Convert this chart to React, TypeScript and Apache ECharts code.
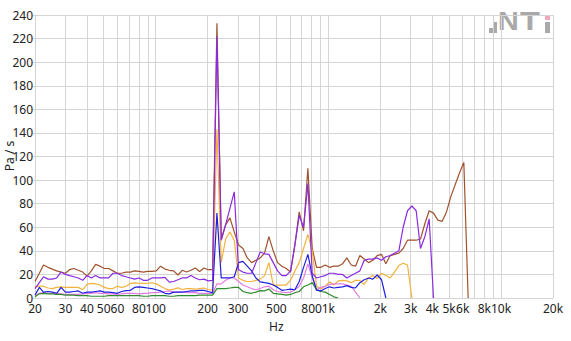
import React, { useEffect, useRef } from "react";
import * as echarts from "echarts";

// 1/12-octave band centre frequencies (Hz)
const FREQS = [
  20.0, 21.2, 22.4, 23.8, 25.2, 26.7, 28.3, 30.0, 31.7, 33.6, 35.6, 37.8,
  40.0, 42.4, 44.9, 47.6, 50.4, 53.4, 56.6, 59.9, 63.5, 67.3, 71.3, 75.5,
  80.0, 84.8, 89.8, 95.1, 100.8, 106.8, 113.1, 119.9, 127.0, 134.5, 142.5, 151.0,
  160, 169.5, 179.6, 190.3, 201.6, 213.6, 226.3, 239.7, 254.0, 269.1, 285.1, 302.0,
  320, 339.0, 359.2, 380.6, 403.2, 427.1, 452.5, 479.5, 508.0, 538.2, 570.2, 604.1,
  640, 678.1, 718.4, 761.1, 806.4, 854.3, 905.1, 958.9, 1016, 1076, 1140, 1208,
  1280, 1356, 1437, 1522, 1613, 1709, 1810, 1918, 2032, 2153, 2281, 2416,
  2560, 2712, 2874, 3044, 3225, 3417, 3620, 3836, 4064, 4305, 4561, 4833,
  5120, 5424, 5747, 6089, 6451,
];

const BROWN = [
  14, 21, 28, 26, 24.5, 23, 22, 21, 24, 25,
  23.5, 22, 18.5, 23, 28.5, 27, 25, 25, 23, 21,
  21, 22, 22, 23, 22.5, 22, 22.5, 22.5, 23, 27,
  24.5, 23.5, 23, 19.5, 23.5, 22, 23.5, 25.5, 22.5, 25.5,
  24, 24, 233, 50, 62, 68, 56, 45, 42, 34,
  30, 32, 34, 38, 52, 40, 30, 27, 25, 22,
  45, 73, 57, 110, 42, 26, 26, 28, 26, 27,
  27, 29, 34, 28, 27, 36, 33, 30, 32, 36,
  37, 29, 36, 37, 38, 42, 49, 49, 49, 50,
  63, 74, 72, 66, 65, 73, 86, 96, 106, 115, 0,
];

const PURPLE = [
  8, 13, 18, 16, 16, 17, 22, 20, 19, 18,
  17, 15, 19, 17, 19, 17, 17, 17, 21, 21,
  19, 18, 17, 16, 17, 15, 15, 17, 17, 17,
  17.5, 13.5, 14, 15.5, 17, 17, 19, 17, 15.5, 16,
  14.5, 15, 222, 49, 62, 76, 90, 24, 22, 21,
  21, 30, 39, 37.5, 37, 30, 23, 19, 19, 23,
  45, 70, 60, 97, 21, 17, 18, 19, 21, 21,
  20, 20, 17, 19, 21, 23, 32, 33, 33, 34,
  32, 35, 36, 38, 40, 60, 74, 78, 74, 42,
  52, 67, 0,
];

const ORANGE = [
  9.5, 10, 10, 8.5, 8, 9, 9.5, 9, 9, 9,
  9, 7, 11.5, 12.4, 12, 11, 9, 8, 8, 10,
  9, 10, 12.4, 12.8, 12.5, 12.4, 12.5, 12.9, 12, 10,
  8, 6.7, 7.5, 8.6, 7.2, 8, 8, 7.5, 8, 8.5,
  7.2, 6.5, 143, 30, 50, 56, 49, 17, 15, 14,
  14, 15, 16, 19, 30, 11, 11, 11, 11, 15,
  23, 30, 42, 54, 40, 10, 7.6, 10, 13.8, 11,
  14.5, 15, 14.5, 13, 15, 15, 11.5, 17, 19, 16.6,
  21, 19, 17, 22, 27.5, 29.5, 28, 0,
];

const BLUE = [
  2.5, 9, 5, 5.5, 5, 4, 9, 5, 5, 5.5,
  6, 4, 5, 5, 5.5, 6, 5, 5, 4.5, 4,
  5.5, 6.3, 6.5, 9, 9.5, 9, 8.5, 8, 7, 6,
  4, 3.5, 5, 5, 5, 5.5, 6, 6, 6.5, 6.5,
  5.5, 4.4, 72, 17, 17, 17, 18, 30, 31, 27,
  23, 17, 13.7, 13, 12.4, 11, 9, 6.5, 7, 7.6,
  7, 14, 26, 37, 19, 6.7, 6, 8, 9.5, 8.5,
  9, 9.5, 10.5, 9, 8.5, 13, 15.5, 17, 16, 19.5,
  15.5, 0,
];

const PINK = [
  2, 4, 4.5, 4, 4, 4, 3.5, 3, 3, 3,
  3, 3.5, 4, 4, 4.5, 4, 4, 3.5, 3.5, 3,
  3.5, 4, 4, 4, 3.5, 4, 4, 4.5, 4.5, 5,
  5.5, 6, 5, 5, 5, 4.5, 4.5, 4.5, 4, 4,
  4, 3.9, 12, 12, 15, 17, 17, 14, 11, 9.5,
  8, 7, 8, 9.5, 10, 7, 5.5, 5, 4.5, 5,
  7, 10, 17, 29, 17, 7, 9, 10, 11.5, 12,
  12, 12, 11, 10, 5, 0,
];

const GREEN = [
  1, 3.5, 4, 3.5, 3.5, 3, 3, 2.5, 2.5, 2.5,
  2, 2, 2, 1.5, 1.5, 1.5, 1.5, 2, 2, 2,
  2, 2, 2, 2, 2, 1.5, 1.5, 2, 2, 2,
  2, 1.5, 1.5, 2, 2, 2, 2, 2, 2.5, 2.5,
  2.5, 2.5, 8, 8, 8, 8.5, 9, 9, 5.5, 4.5,
  4, 5, 6.3, 6, 7.6, 4, 3.5, 3, 2.5, 3,
  4.5, 5.5, 9.5, 11, 13, 7, 5.5, 5, 3, 1,
  0,
];

const GRID_FREQS = [
  20, 30, 40, 50, 60, 70, 80, 90, 100,
  200, 300, 400, 500, 600, 700, 800, 900, 1000,
  2000, 3000, 4000, 5000, 6000, 7000, 8000, 9000, 10000, 20000,
];
const LABEL_FREQS = [20, 30, 40, 50, 60, 80, 100, 200, 300, 500, 800, 1000, 2000, 3000, 4000, 5000, 6000, 8000, 10000, 20000];
const LABEL_TEXTS = ["20", "30", "40", "50", "60", "80", "100", "200", "300", "500", "800", "1k", "2k", "3k", "4k", "5k", "6k", "8k", "10k", "20k"];

const SERIES = [
  { name: "brown", color: "#a0522d", values: BROWN },
  { name: "orange", color: "#f4b23c", values: ORANGE },
  { name: "pink", color: "#e37de3", values: PINK },
  { name: "green", color: "#2e8b2e", values: GREEN },
  { name: "blue", color: "#1f1fe0", values: BLUE },
  { name: "purple", color: "#8a2be2", values: PURPLE },
];

const FONT = "'Noto Sans', 'Open Sans', sans-serif";
const GRID_COLOR = "#d4d4d4";
const TEXT_COLOR = "#222";
const LOGO_GRAY = "#a9a9a9";

export default function App() {
  const ref = useRef<HTMLDivElement>(null);

  useEffect(() => {
    if (!ref.current) return;
    const chart = echarts.init(ref.current, null, { renderer: "svg" });
    const lx = (f: number) => Math.log10(f);
    const labelMap = new Map<number, string>(LABEL_FREQS.map((f, i) => [f, LABEL_TEXTS[i]]));

    const option: any = {
      animation: false,
      textStyle: { fontFamily: FONT },
      grid: { left: 35, right: 18, top: 15, bottom: 43, containLabel: false, outerBoundsMode: "none" },
      xAxis: {
        type: "value",
        min: lx(20),
        max: lx(20000),
        axisLine: { show: true, lineStyle: { color: GRID_COLOR } },
        axisTick: { show: false, customValues: GRID_FREQS.map(lx) },
        axisLabel: {
          customValues: LABEL_FREQS.map(lx),
          formatter: (v: number) => labelMap.get(Math.round(Math.pow(10, v))) ?? "",
          color: TEXT_COLOR,
          fontSize: 12,
          fontFamily: FONT,
          margin: 4,
        },
        splitLine: { show: true, lineStyle: { color: GRID_COLOR, width: 1 } },
      },
      yAxis: {
        type: "value",
        min: 0,
        max: 240,
        interval: 20,
        axisLine: { show: true, lineStyle: { color: GRID_COLOR } },
        axisTick: { show: true, length: 2, lineStyle: { color: GRID_COLOR } },
        axisLabel: { color: TEXT_COLOR, fontSize: 12, fontFamily: FONT, margin: 2 },
        splitLine: { show: true, lineStyle: { color: GRID_COLOR, width: 1 } },
      },
      series: SERIES.map((s) => ({
        type: "line",
        name: s.name,
        showSymbol: false,
        symbol: "none",
        data: s.values.map((v, i) => [lx(FREQS[i]), v]),
        lineStyle: { color: s.color, width: 1.2 },
        itemStyle: { color: s.color },
        z: 3,
      })),
      graphic: [
        {
          type: "text",
          left: 269,
          top: 320,
          style: { text: "Hz", fill: TEXT_COLOR, font: `12px ${FONT}` },
        },
        {
          type: "text",
          x: 9,
          y: 156,
          rotation: Math.PI / 2,
          style: { text: "Pa / s", fill: TEXT_COLOR, font: `12px ${FONT}`, textAlign: "center", textVerticalAlign: "middle" },
        },
        { type: "rect", shape: { x: 489, y: 28, width: 4, height: 5 }, style: { fill: LOGO_GRAY } },
        { type: "rect", shape: { x: 494, y: 22, width: 3, height: 11 }, style: { fill: LOGO_GRAY } },
        {
          type: "text",
          x: 498,
          y: 34,
          scaleX: 1.15,
          style: { text: "N", fill: LOGO_GRAY, font: `bold 25px 'Liberation Sans', sans-serif`, textVerticalAlign: "bottom" },
        },
        {
          type: "text",
          x: 520,
          y: 34,
          scaleX: 1.3,
          style: { text: "T", fill: LOGO_GRAY, font: `bold 25px 'Liberation Sans', sans-serif`, textVerticalAlign: "bottom" },
        },
        { type: "rect", shape: { x: 545, y: 22, width: 5, height: 11 }, style: { fill: LOGO_GRAY } },
        { type: "rect", shape: { x: 545, y: 15, width: 5, height: 5 }, style: { fill: "#f2a7ba" } },
      ],
    };

    chart.setOption(option);
    return () => chart.dispose();
  }, []);

  return <div ref={ref} style={{ width: 571, height: 341, position: "absolute", left: 0, top: 0 }} />;
}
